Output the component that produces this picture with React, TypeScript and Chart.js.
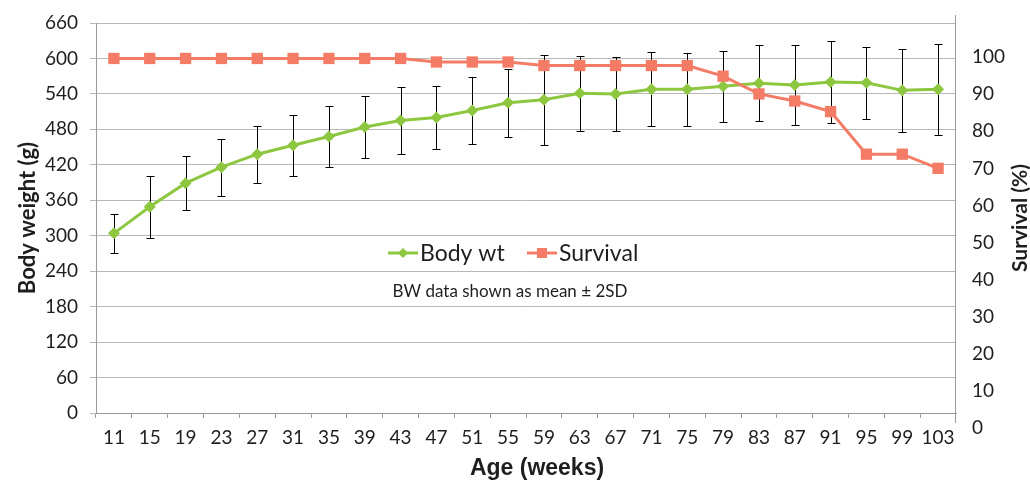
import React, { useEffect, useRef } from 'react';
import { Chart, registerables } from 'chart.js';

Chart.register(...registerables);

// ---- Data ----
const ages = ['11', '15', '19', '23', '27', '31', '35', '39', '43', '47', '51', '55', '59', '63', '67', '71', '75', '79', '83', '87', '91', '95', '99', '103'];
const bodyWeight = [304, 349, 389, 416, 438, 453, 468, 484, 495, 500, 512, 525, 530, 541, 540, 548, 548, 553, 558, 555, 560, 559, 546, 548];
const bodyWeightErr2SD = [33, 52, 46, 48, 48, 52, 51, 52, 56, 53, 57, 58, 76, 64, 62, 63, 62, 60, 64, 68, 69, 61, 70, 77];
const survival = [100, 100, 100, 100, 100, 100, 100, 100, 100, 99, 99, 99, 98, 98, 98, 98, 98, 95, 90, 88, 85, 73, 73, 69];
const weightTicks = [0, 60, 120, 180, 240, 300, 360, 420, 480, 540, 600, 660];
const survivalTicks = [0, 10, 20, 30, 40, 50, 60, 70, 80, 90, 100];

const seriesNames = ['Body wt', 'Survival'];
const noteText = 'BW data shown as mean ± 2SD';
const xTitle = 'Age (weeks)';
const yTitle = 'Body weight (g)';
const y2Title = 'Survival (%)';

const GREEN = '#8dc63f';
const SALMON = '#f47c67';
const AXIS = '#9a9a9a';
const GRID = '#b8b8b8';
const TEXT = '#1e1e1e';
const FONT = 'Lato, "Noto Sans", sans-serif';

function drawMarker(ctx: CanvasRenderingContext2D, style: string, x: number, y: number, color: string, r: number) {
  ctx.save();
  ctx.fillStyle = color;
  ctx.beginPath();
  if (style === 'rectRot') {
    ctx.moveTo(x, y - r);
    ctx.lineTo(x + r, y);
    ctx.lineTo(x, y + r);
    ctx.lineTo(x - r, y);
    ctx.closePath();
  } else {
    ctx.rect(x - r, y - r, 2 * r, 2 * r);
  }
  ctx.fill();
  ctx.restore();
}

const errorBarPlugin = {
  id: 'errorBars',
  beforeDatasetsDraw(chart: any) {
    const { ctx } = chart;
    const xs = chart.scales.x;
    const ys = chart.scales.y;
    ctx.save();
    ctx.strokeStyle = '#000';
    ctx.lineWidth = 1;
    bodyWeight.forEach((m, i) => {
      const x = Math.round(xs.getPixelForValue(i)) + 0.5;
      const yt = Math.round(ys.getPixelForValue(m + bodyWeightErr2SD[i])) + 0.5;
      const yb = Math.round(ys.getPixelForValue(m - bodyWeightErr2SD[i])) + 0.5;
      ctx.beginPath();
      ctx.moveTo(x, yt);
      ctx.lineTo(x, yb);
      ctx.moveTo(x - 4, yt);
      ctx.lineTo(x + 4, yt);
      ctx.moveTo(x - 4, yb);
      ctx.lineTo(x + 4, yb);
      ctx.stroke();
    });
    ctx.restore();
  },
};

const decorPlugin = {
  id: 'decor',
  afterDraw(chart: any) {
    const { ctx, chartArea } = chart;
    const { left, right, top, bottom } = chartArea;
    ctx.save();
    // right axis line
    ctx.strokeStyle = AXIS;
    ctx.lineWidth = 1;
    ctx.beginPath();
    ctx.moveTo(Math.round(right) - 0.5, top - 8);
    ctx.lineTo(Math.round(right) - 0.5, bottom + 10);
    ctx.stroke();

    // right title
    ctx.fillStyle = TEXT;
    ctx.font = `bold 21px ${FONT}`;
    ctx.textAlign = 'center';
    ctx.textBaseline = 'middle';
    ctx.save();
    ctx.translate(chart.width - 10, (top + bottom) / 2);
    ctx.rotate(-Math.PI / 2);
    ctx.fillText(y2Title, 0, 0);
    ctx.restore();

    // x title
    ctx.font = 'bold 23px "Liberation Sans", Arial, sans-serif';
    ctx.fillText(xTitle, (left + right) / 2 + 11, bottom + 56);

    // legend
    const ly = top + 230;
    const lx = left + 292;
    ctx.lineWidth = 3;
    ctx.strokeStyle = GREEN;
    ctx.beginPath();
    ctx.moveTo(lx, ly);
    ctx.lineTo(lx + 30, ly);
    ctx.stroke();
    drawMarker(ctx, 'rectRot', lx + 15, ly, GREEN, 5);
    ctx.font = `23px ${FONT}`;
    ctx.textAlign = 'left';
    ctx.fillStyle = TEXT;
    ctx.fillText(seriesNames[0], lx + 32, ly + 1);

    const sx = lx + 139;
    ctx.strokeStyle = SALMON;
    ctx.beginPath();
    ctx.moveTo(sx, ly);
    ctx.lineTo(sx + 30, ly);
    ctx.stroke();
    drawMarker(ctx, 'rect', sx + 15, ly, SALMON, 5);
    ctx.fillText(seriesNames[1], sx + 32, ly + 1);

    // note
    ctx.font = `17px ${FONT}`;
    ctx.textAlign = 'center';
    ctx.fillText(noteText, left + 414, top + 269);
    ctx.restore();
  },
};

export default function App() {
  const ref = useRef<HTMLCanvasElement | null>(null);
  useEffect(() => {
    if (!ref.current) return;
    const tickFont = { family: FONT, size: 19 };
    const chart = new Chart(ref.current, {
      type: 'line',
      data: {
        labels: ages,
        datasets: [
          {
            label: seriesNames[0],
            data: bodyWeight,
            yAxisID: 'y',
            borderColor: GREEN,
            backgroundColor: GREEN,
            borderWidth: 3,
            pointStyle: 'rectRot',
            pointRadius: 6,
            pointBorderWidth: 0,
            pointBackgroundColor: GREEN,
            tension: 0,
            order: 2,
          },
          {
            label: seriesNames[1],
            data: survival,
            yAxisID: 'y2',
            borderColor: SALMON,
            backgroundColor: SALMON,
            borderWidth: 3,
            pointStyle: 'rect',
            pointRadius: 8,
            pointBorderWidth: 0,
            pointBackgroundColor: SALMON,
            tension: 0,
            order: 1,
          },
        ],
      },
      options: {
        responsive: false,
        animation: false,
        layout: { padding: { top: 23, left: 0, right: 0, bottom: 0 } },
        plugins: { legend: { display: false }, tooltip: { enabled: false } },
        scales: {
          x: {
            type: 'category',
            offset: true,
            grid: { offset: true, drawOnChartArea: false, drawTicks: true, tickLength: 5, color: AXIS },
            border: { color: AXIS, width: 1 },
            ticks: { font: tickFont, color: TEXT, padding: 8, maxRotation: 0, autoSkip: false },
            afterFit: (s: any) => { s.height = 68; s.paddingLeft = 0; s.paddingRight = 0; },
          },
          y: {
            position: 'left',
            min: 0,
            max: 660,
            grid: { color: GRID, tickLength: 6, drawTicks: true },
            border: { color: AXIS, width: 1 },
            ticks: { font: tickFont, color: TEXT, padding: 12, autoSkip: false },
            afterBuildTicks: (s: any) => { s.ticks = weightTicks.map((v) => ({ value: v })); },
            title: { display: true, text: yTitle, color: TEXT, font: { family: FONT, size: 22, weight: 'bold' }, padding: { top: 15, bottom: 0 } },
            afterFit: (s: any) => { s.width = 96; s.paddingTop = 0; s.paddingBottom = 0; },
          },
          y2: {
            position: 'right',
            display: false,
            min: 0,
            max: 110,
          },
          y3: {
            position: 'right',
            min: 4.04,
            max: 109.2,
            grid: { drawOnChartArea: false, drawTicks: false },
            border: { display: false },
            ticks: { font: tickFont, color: TEXT, padding: 16, autoSkip: false },
            afterBuildTicks: (s: any) => { s.ticks = survivalTicks.map((v) => ({ value: v })); },
            afterFit: (s: any) => { s.width = 74; s.paddingTop = 0; s.paddingBottom = 0; },
          },
        },
      } as any,
      plugins: [errorBarPlugin, decorPlugin],
    });
    return () => chart.destroy();
  }, []);
  return (
    <div style={{ position: 'fixed', left: 0, top: 0, width: 1030, height: 481, background: '#fff' }}>
      <canvas ref={ref} width={1030} height={481} style={{ display: 'block' }} />
    </div>
  );
}
